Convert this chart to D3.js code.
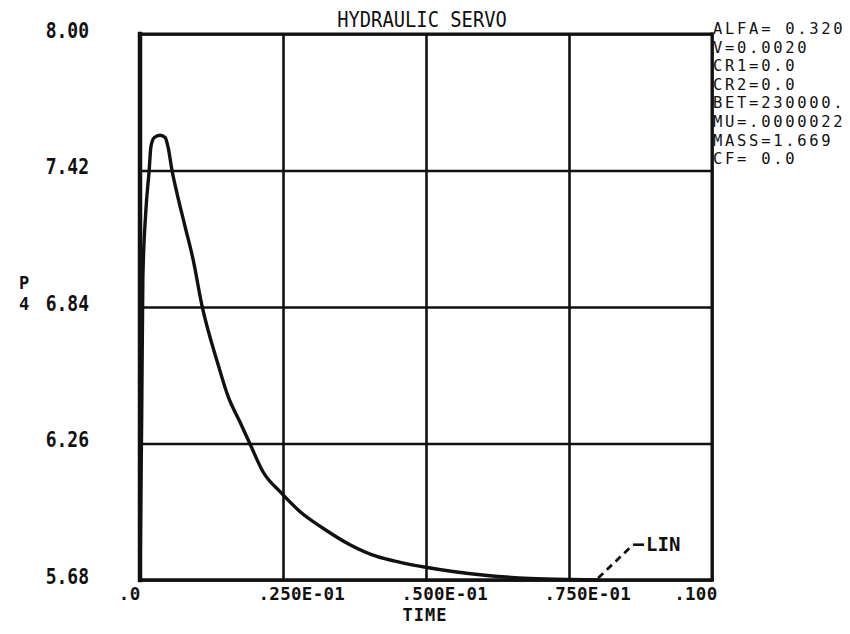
<!DOCTYPE html>
<html>
<head>
<meta charset="utf-8">
<script src="https://cdn.jsdelivr.net/npm/d3@7"></script>
<style>
  body { margin: 0; background: #fff; }
  svg { display: block; }
</style>
</head>
<body>
<svg id="chart" width="850" height="634"></svg>
<script>
// Pressure P4 response of the hydraulic servo over time
const timeValues = [0, 0.0003, 0.0005, 0.0010, 0.0016, 0.0019, 0.0025, 0.0035, 0.0044, 0.0049,
  0.0056, 0.0065, 0.0079, 0.0093, 0.0108, 0.0136, 0.0154, 0.0175, 0.0192,
  0.0215, 0.0247, 0.0280, 0.0320, 0.0367, 0.0414, 0.0455, 0.0502, 0.0547, 0.0607,
  0.0682, 0.0752, 0.0800];
const p4Values = [5.68, 6.38, 6.96, 7.24, 7.42, 7.52, 7.56, 7.57, 7.56, 7.52,
  7.42, 7.32, 7.18, 7.04, 6.85, 6.60, 6.46, 6.35, 6.26,
  6.14, 6.05, 5.97, 5.90, 5.83, 5.78, 5.755, 5.733, 5.716, 5.699,
  5.687, 5.682, 5.68];

const xTickValues = [0, 0.025, 0.05, 0.075, 0.1];
const xTickLabels = [".0", ".250E-01", ".500E-01", ".750E-01", ".100"];
const yTickValues = [5.68, 6.26, 6.84, 7.42, 8.00];
const yTickLabels = ["5.68", "6.26", "6.84", "7.42", "8.00"];

const titleText = "HYDRAULIC SERVO";
const xTitle = "TIME";
const yTitle = ["P", "4"];
const paramLines = ["ALFA= 0.320", "V=0.0020", "CR1=0.0", "CR2=0.0",
  "BET=230000.", "MU=.0000022", "MASS=1.669", "CF= 0.0"];
const curveName = "LIN";
// where the curve name sits (time, P4) and where its leader meets the curve
const curveLabelAt = [0.0862, 5.83];
const curveLeaderFrom = [0.0801, 5.68];

const plot = { left: 140, right: 712, top: 34, bottom: 580 };
const mono = "'DejaVu Sans Mono', 'Liberation Mono', monospace";
const ink = "#111";

const svg = d3.select("#chart");
svg.append("rect").attr("width", 850).attr("height", 634).attr("fill", "#fff");

const x = d3.scaleLinear().domain([0, 0.1]).range([plot.left, plot.right]);
const y = d3.scaleLinear().domain([5.68, 8.00]).range([plot.bottom, plot.top]);

// vertical grid + time labels
const xAxis = d3.axisBottom(x)
  .tickValues(xTickValues)
  .tickSize(-(plot.bottom - plot.top))
  .tickFormat((d, i) => xTickLabels[i]);
const gx = svg.append("g")
  .attr("transform", `translate(0,${plot.bottom})`)
  .call(xAxis);
gx.select(".domain").remove();
gx.selectAll(".tick line").attr("stroke", ink).attr("stroke-width", 2.6);
gx.selectAll(".tick text")
  .attr("fill", ink)
  .attr("font-family", mono)
  .attr("font-weight", "bold")
  .attr("font-size", 17.5)
  .attr("letter-spacing", 0.3)
  .attr("dy", 0)
  .attr("y", 20)
  .attr("text-anchor", (d, i) => (i === 0 || i === xTickValues.length - 1) ? "end" : "start")
  .attr("x", (d, i) => i === 0 ? 0 : (i === xTickValues.length - 1 ? 5 : -25));

// horizontal grid + pressure labels
const yAxis = d3.axisLeft(y)
  .tickValues(yTickValues)
  .tickSize(-(plot.right - plot.left))
  .tickFormat((d, i) => yTickLabels[i]);
const gy = svg.append("g")
  .attr("transform", `translate(${plot.left},0)`)
  .call(yAxis);
gy.select(".domain").remove();
gy.selectAll(".tick line").attr("stroke", ink).attr("stroke-width", 2.6);
gy.selectAll(".tick text")
  .attr("fill", ink)
  .attr("font-family", mono)
  .attr("font-weight", "bold")
  .attr("font-size", 18)
  .attr("text-anchor", "end")
  .attr("x", 0).attr("y", 0).attr("dy", 0)
  .attr("transform", "translate(-51,3) scale(1,1.18)");

// plot frame, heavier on the left and bottom
const frame = svg.append("g").attr("stroke", ink).attr("stroke-linecap", "square");
frame.append("line").attr("x1", plot.left).attr("x2", plot.right)
  .attr("y1", plot.top).attr("y2", plot.top).attr("stroke-width", 3);
frame.append("line").attr("x1", plot.right).attr("x2", plot.right)
  .attr("y1", plot.top).attr("y2", plot.bottom).attr("stroke-width", 3);
frame.append("line").attr("x1", plot.left).attr("x2", plot.right)
  .attr("y1", plot.bottom).attr("y2", plot.bottom).attr("stroke-width", 3.6);
frame.append("line").attr("x1", plot.left).attr("x2", plot.left)
  .attr("y1", plot.top).attr("y2", plot.bottom).attr("stroke-width", 4.5);

// response curve
const line = d3.line()
  .x((d, i) => x(timeValues[i]))
  .y(d => y(d))
  .curve(d3.curveMonotoneX);
svg.append("path")
  .datum(p4Values)
  .attr("d", line)
  .attr("fill", "none")
  .attr("stroke", ink)
  .attr("stroke-width", 3.4)
  .attr("stroke-linejoin", "round")
  .attr("stroke-linecap", "round");

// curve name with dashed leader
const lx = x(curveLabelAt[0]), ly = y(curveLabelAt[1]);
svg.append("line")
  .attr("x1", x(curveLeaderFrom[0])).attr("y1", y(curveLeaderFrom[1]) - 2)
  .attr("x2", lx).attr("y2", ly)
  .attr("stroke", ink).attr("stroke-width", 2.8)
  .attr("stroke-dasharray", "7,5");
svg.append("line")
  .attr("x1", lx).attr("y1", ly).attr("x2", lx + 11).attr("y2", ly)
  .attr("stroke", ink).attr("stroke-width", 2.6);
svg.append("text")
  .attr("transform", `translate(${lx + 13},${ly + 6})`)
  .attr("font-family", mono).attr("font-weight", "bold").attr("font-size", 19)
  .attr("fill", ink)
  .text(curveName);

// title
svg.append("text")
  .attr("transform", "translate(422,27) scale(1,1.1)")
  .attr("text-anchor", "middle")
  .attr("font-family", mono).attr("font-size", 18.8)
  .attr("fill", ink)
  .text(titleText);

// axis titles
svg.append("text")
  .attr("x", 425).attr("y", 621)
  .attr("text-anchor", "middle")
  .attr("font-family", mono).attr("font-weight", "bold").attr("font-size", 17)
  .attr("letter-spacing", 1)
  .attr("fill", ink)
  .text(xTitle);
svg.selectAll("text.ytitle")
  .data(yTitle)
  .join("text")
  .attr("class", "ytitle")
  .attr("x", 24)
  .attr("y", (d, i) => 289 + i * 21)
  .attr("text-anchor", "middle")
  .attr("font-family", mono).attr("font-weight", "bold").attr("font-size", 17)
  .attr("fill", ink)
  .text(d => d);

// run parameters beside the frame
svg.selectAll("text.param")
  .data(paramLines)
  .join("text")
  .attr("class", "param")
  .attr("x", plot.right + 1)
  .attr("y", (d, i) => 34 + i * 18.6)
  .attr("font-family", mono).attr("font-size", 15.5)
  .attr("letter-spacing", 2.7)
  .attr("fill", ink)
  .text(d => d);
</script>
</body>
</html>
